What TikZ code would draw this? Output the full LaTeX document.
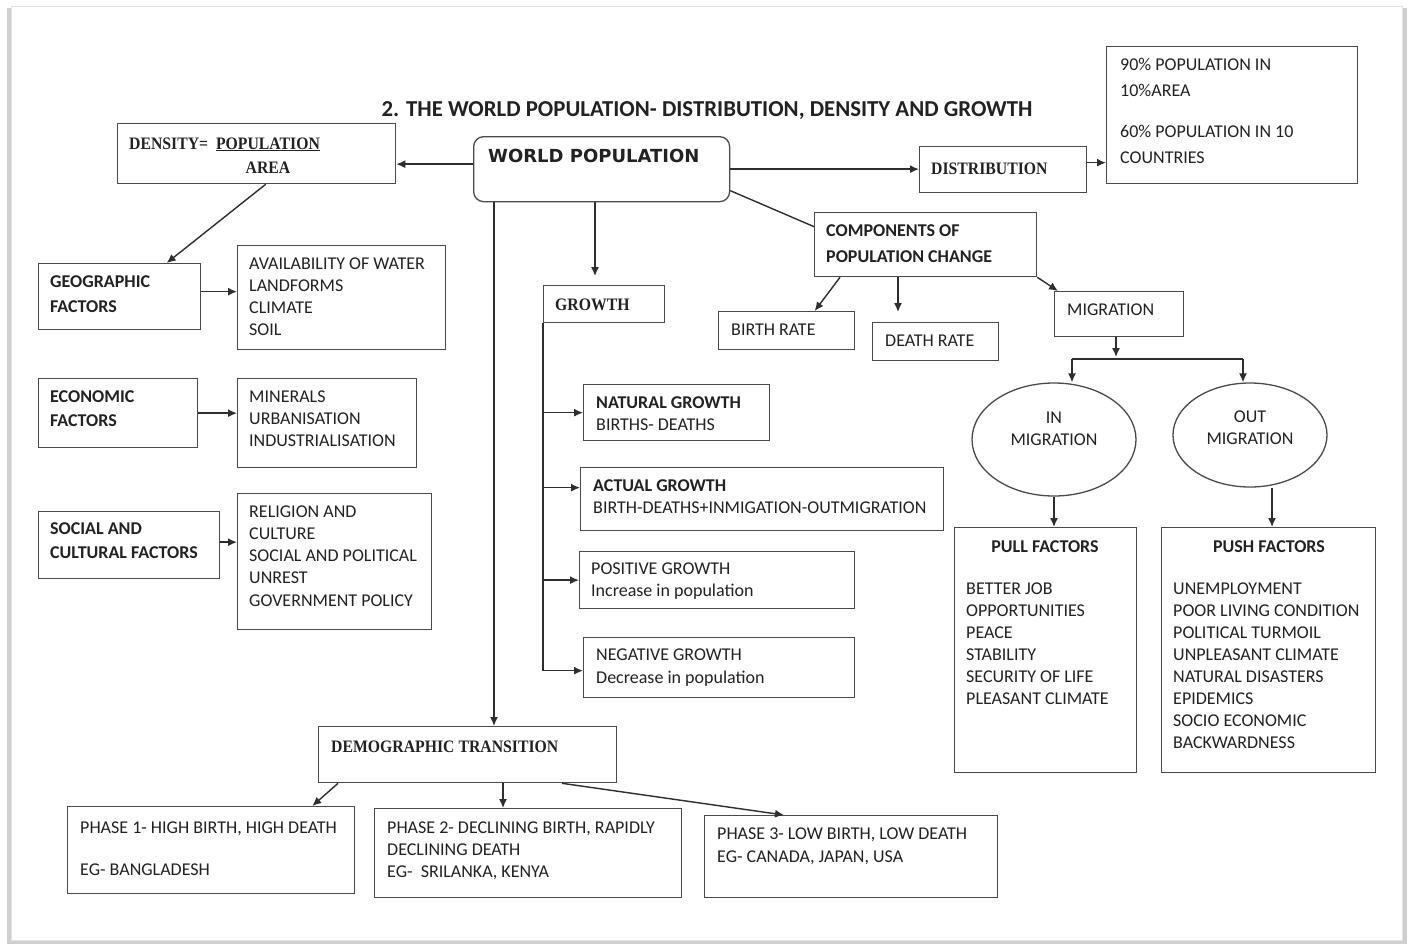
\documentclass[tikz,border=0pt]{standalone}
\usepackage{fontspec}
\setmainfont{Carlito}
\newfontfamily\serifhd[FakeStretch=0.9]{Liberation Serif}
\newfontfamily\widehd{DejaVu Sans}
\usetikzlibrary{arrows.meta,shapes.geometric}
\newcommand\txtsz{\fontsize{18}{22}\selectfont}
\newcommand\srfsz{\serifhd\bfseries\fontsize{17.5}{24}\selectfont}
\definecolor{inkc}{HTML}{222222}
\definecolor{boxc}{HTML}{4A4A4A}
\definecolor{linec}{HTML}{2E2E2E}
\definecolor{shadc}{HTML}{CFCFCF}
\definecolor{pagec}{HTML}{E2E2E2}
% multi-line texts are placed by the baseline of their last line
\tikzset{
  bx/.style={draw=boxc, line width=1.3pt, inner sep=0pt, anchor=north west},
  tx/.style={font=\txtsz, text=inkc, inner sep=0pt, align=left, anchor=base west},
  hd/.style={tx, font=\txtsz\bfseries},
  sh/.style={tx, font=\srfsz},
  arr/.style={draw=linec, line width=1.4pt, -{Latex[length=9pt,width=8pt]}},
  ln/.style={draw=linec, line width=1.4pt},
}
\begin{document}
\begin{tikzpicture}[x=1pt,y=-1pt]
\useasboundingbox (0,0) rectangle (1410,946);
% sheet with its soft edge
\fill[white] (0,0) rectangle (1410,946);
\fill[shadc] (7,8) rectangle (1407,944);
\fill[white] (11,6) rectangle (1402,940);
\draw[pagec, line width=0.8pt] (11,6) rectangle (1402,940);

% title
\node[tx, anchor=base, font=\fontsize{22.8}{26}\selectfont\bfseries] (title) at (707,116)
  {2. THE WORLD POPULATION- DISTRIBUTION, DENSITY AND GROWTH};

% central node
\node[bx, rounded corners=10pt, minimum width=256pt, minimum height=65pt] (wp) at (473,136) {};
\node[tx, font=\widehd\bfseries\fontsize{18}{22}\selectfont] (wp-t) at (488,162) {WORLD POPULATION};

% density
\node[bx, minimum width=278pt, minimum height=60pt] (dens) at (117,123) {};
\node[sh] (dens-t) at (129,149)
  {DENSITY=\ \ \begin{tabular}[t]{@{}c@{}}\underline{POPULATION}\\AREA\end{tabular}};

% distribution
\node[bx, minimum width=167pt, minimum height=46pt] (dist) at (919,146) {};
\node[sh] (dist-t) at (931,174) {DISTRIBUTION};
\node[bx, minimum width=251pt, minimum height=137pt] (pct) at (1106,46) {};
\node[tx, font=\fontsize{18}{25.5}\selectfont] (pct-t) at (1120,163)
  {90\% POPULATION IN\\10\%AREA\\[16pt]60\% POPULATION IN 10\\COUNTRIES};

% factors on the left
\node[bx, minimum width=162pt, minimum height=66pt] (geo) at (38,263) {};
\node[hd, font=\fontsize{18}{25}\selectfont\bfseries] (geo-t) at (50,312) {GEOGRAPHIC\\FACTORS};
\node[bx, minimum width=208pt, minimum height=104pt] (geol) at (237,245) {};
\node[tx] (geol-t) at (249,335) {AVAILABILITY OF WATER\\LANDFORMS\\CLIMATE\\SOIL};

\node[bx, minimum width=159pt, minimum height=69pt] (eco) at (38,378) {};
\node[hd, font=\fontsize{18}{24}\selectfont\bfseries] (eco-t) at (50,426) {ECONOMIC\\FACTORS};
\node[bx, minimum width=179pt, minimum height=89pt] (ecol) at (237,378) {};
\node[tx] (ecol-t) at (249,446) {MINERALS\\URBANISATION\\INDUSTRIALISATION};

\node[bx, minimum width=181pt, minimum height=67pt] (soc) at (38,511) {};
\node[hd, font=\fontsize{18}{24}\selectfont\bfseries] (soc-t) at (50,558) {SOCIAL AND\\CULTURAL FACTORS};
\node[bx, minimum width=194pt, minimum height=136pt] (socl) at (237,493) {};
\node[tx, font=\fontsize{18}{22.25}\selectfont] (socl-t) at (249,606)
  {RELIGION AND\\CULTURE\\SOCIAL AND POLITICAL\\UNREST\\GOVERNMENT POLICY};

% growth
\node[bx, minimum width=121pt, minimum height=37pt] (gr) at (543,285) {};
\node[sh] (gr-t) at (555,310) {GROWTH};
\coordinate (gin) at (595,276);

\node[bx, minimum width=186pt, minimum height=56pt] (nat) at (583,384) {};
\node[tx] (nat-t) at (596,430) {\textbf{NATURAL GROWTH}\\BIRTHS- DEATHS};
\node[bx, minimum width=363pt, minimum height=63pt] (act) at (580,467) {};
\node[tx] (act-t) at (593,513) {\textbf{ACTUAL GROWTH}\\BIRTH-DEATHS+INMIGATION-OUTMIGRATION};
\node[bx, minimum width=275pt, minimum height=57pt] (pos) at (579,551) {};
\node[tx] (pos-t) at (591,596) {POSITIVE GROWTH\\Increase in population};
\node[bx, minimum width=271pt, minimum height=60pt] (neg) at (583,637) {};
\node[tx, font=\fontsize{18}{23}\selectfont] (neg-t) at (596,683) {NEGATIVE GROWTH\\Decrease in population};

% components of change
\node[bx, minimum width=222pt, minimum height=64pt] (comp) at (814,212) {};
\node[hd, font=\fontsize{18}{26}\selectfont\bfseries] (comp-t) at (826,262) {COMPONENTS OF\\POPULATION CHANGE};
\node[bx, minimum width=136pt, minimum height=38pt] (birth) at (718,311) {};
\node[tx] (birth-t) at (731,335) {BIRTH RATE};
\node[bx, minimum width=126pt, minimum height=38pt] (death) at (872,322) {};
\node[tx] (death-t) at (885,346) {DEATH RATE};
\coordinate (dtip) at (898,312);
\node[bx, minimum width=129pt, minimum height=45pt] (mig) at (1054,291) {};
\node[tx] (mig-t) at (1067,315) {MIGRATION};
\coordinate (mtip) at (1116,357);
\coordinate (sl) at (1072,359);
\coordinate (sr) at (1243,359);

\node[draw=boxc, line width=1.3pt, ellipse, inner sep=0pt, minimum width=164pt, minimum height=113pt] (inm) at (1054,439.5) {};
\node[tx, align=center, anchor=base] (inm-t) at (1054,445) {IN\\MIGRATION};
\node[draw=boxc, line width=1.3pt, ellipse, inner sep=0pt, minimum width=154pt, minimum height=104pt] (outm) at (1250,435) {};
\node[tx, align=center, anchor=base] (outm-t) at (1250,444) {OUT\\MIGRATION};

\node[bx, minimum width=182pt, minimum height=245pt] (pull) at (954,527) {};
\node[hd, anchor=base] (pull-h) at (1045,552) {PULL FACTORS};
\node[tx] (pull-t) at (966,704)
  {BETTER JOB\\OPPORTUNITIES\\PEACE\\STABILITY\\SECURITY OF LIFE\\PLEASANT CLIMATE};
\node[bx, minimum width=214pt, minimum height=245pt] (push) at (1161,527) {};
\node[hd, anchor=base] (push-h) at (1269,552) {PUSH FACTORS};
\node[tx] (push-t) at (1173,748)
  {UNEMPLOYMENT\\POOR LIVING CONDITION\\POLITICAL TURMOIL\\UNPLEASANT CLIMATE\\NATURAL DISASTERS\\EPIDEMICS\\SOCIO ECONOMIC\\BACKWARDNESS};

% demographic transition
\node[bx, minimum width=298pt, minimum height=56pt] (demo) at (318,726) {};
\node[sh] (demo-t) at (331,752) {DEMOGRAPHIC TRANSITION};
\node[bx, minimum width=287pt, minimum height=87pt] (ph1) at (67,806) {};
\node[tx] (ph1-t) at (80,875) {PHASE 1- HIGH BIRTH, HIGH DEATH\\[20pt]EG- BANGLADESH};
\node[bx, minimum width=307pt, minimum height=89pt] (ph2) at (374,808) {};
\node[tx] (ph2-t) at (387,877) {PHASE 2- DECLINING BIRTH, RAPIDLY\\DECLINING DEATH\\EG-\ \ SRILANKA, KENYA};
\node[bx, minimum width=293pt, minimum height=82pt] (ph3) at (704,815) {};
\node[tx, font=\fontsize{18}{23}\selectfont] (ph3-t) at (717,862) {PHASE 3- LOW BIRTH, LOW DEATH\\EG- CANADA, JAPAN, USA};

% connectors
\draw[arr] ([yshift=5pt]wp.west) -- ([yshift=5pt]wp.west -| dens.east);
\draw[arr] (wp.east) -- (wp.east -| dist.west);
\draw[arr] ([yshift=7pt]dist.east) -- ([yshift=7pt]dist.east -| pct.west);
\draw[arr] ([xshift=9pt]dens.south) -- ([xshift=47pt]geo.north);
\draw[arr] ([yshift=5pt]geo.east) -- ([yshift=5pt]geo.east -| geol.west);
\draw[arr] (eco.east) -- (eco.east -| ecol.west);
\draw[arr] ([yshift=3pt]soc.east) -- ([yshift=3pt]soc.east -| socl.west);

\draw[arr] ([xshift=21pt]wp.south west) -- ([xshift=21pt]wp.south west |- demo.north);
\draw[arr] (wp.south -| gin) -- (gin);
\draw[ln] (gr.south west) -- ([yshift=-3pt]gr.south west |- neg.west);
\draw[arr] (gr.south west |- nat.west) -- (nat.west);
\draw[arr] ([yshift=11.5pt]gr.south west |- act.west) -- ([yshift=11.5pt]act.west);
\draw[arr] (gr.south west |- pos.west) -- (pos.west);
\draw[arr] ([yshift=-3pt]gr.south west |- neg.west) -- ([yshift=-3pt]neg.west);

\draw[ln] ([yshift=-21.5pt]wp.east) -- ([yshift=18pt]comp.west);
\draw[arr] ([xshift=26pt]comp.south west) -- ([xshift=28pt]birth.north);
\draw[arr] (comp.south -| dtip) -- (dtip);
\draw[arr] (comp.south east) -- ([xshift=4pt]mig.north west);
\draw[arr] (mig.south -| mtip) -- (mtip);
\draw[ln] (sl) -- (sr);
\draw[arr] (sl) -- (sl |- inm.north);
\draw[arr] (sr) -- (sr |- outm.north);
\draw[arr] (inm.south) -- (inm.south |- pull.north);
\draw[arr] ([xshift=22pt]outm.south) -- ([xshift=22pt]outm.south |- push.north);

\draw[arr] ([xshift=20pt]demo.south west) -- ([xshift=-43pt]ph1.north east);
\draw[arr] ([xshift=185pt]demo.south west) -- ([xshift=185pt]demo.south west |- ph2.north);
\draw[arr] ([xshift=244pt]demo.south west) -- ([xshift=80pt]ph3.north west);
\end{tikzpicture}
\end{document}
